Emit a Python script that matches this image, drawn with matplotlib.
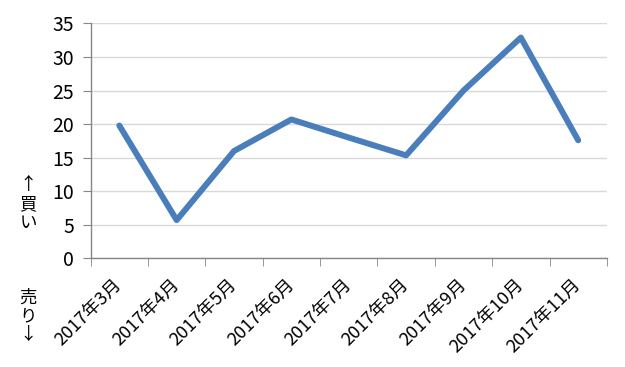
import matplotlib
matplotlib.use("Agg")
import matplotlib.pyplot as plt

plt.rcParams['font.family'] = ['Noto Sans CJK JP', 'DejaVu Sans']

months = ["2017年3月", "2017年4月", "2017年5月", "2017年6月", "2017年7月",
          "2017年8月", "2017年9月", "2017年10月", "2017年11月"]
values = [19.8, 5.7, 16.0, 20.7, 18.0, 15.35, 25.0, 32.9, 17.6]
yticks = [0, 5, 10, 15, 20, 25, 30, 35]

fig = plt.figure(figsize=(6.25, 3.67), dpi=100)
ax = fig.add_axes([0.145, 0.296, 0.826, 0.640])

x = list(range(len(months)))
ax.plot(x, values, color="#4a7ebb", lw=4.3, solid_capstyle="round", solid_joinstyle="round", zorder=3)

ax.set_xlim(-0.5, len(months) - 0.5)
ax.set_ylim(0, 35)
ax.set_yticks(yticks)
ax.yaxis.grid(True, color="#d9d9d9", lw=1.0)
ax.set_axisbelow(True)
for s in ("top", "right"):
    ax.spines[s].set_visible(False)
for s in ("left", "bottom"):
    ax.spines[s].set_color("#868686")
    ax.spines[s].set_linewidth(1.0)

# labels at category centres, tick marks on category boundaries
ax.set_xticks(x)
ax.set_xticklabels(months, rotation=45, ha="right", va="center", rotation_mode="anchor", fontsize=13)
ax.tick_params(axis="x", which="major", length=0, pad=17)
ax.set_xticks([i - 0.5 for i in range(len(months) + 1)], minor=True)
ax.tick_params(axis="x", which="minor", length=6, color="#868686", direction="out")
ax.tick_params(axis="y", length=6, color="#868686", labelsize=14, pad=6)

fig.text(0.045, 0.444, "↑\n買\nい", ha="center", va="center", fontsize=12.5, linespacing=1.05)
fig.text(0.045, 0.139, "売\nり\n↓", ha="center", va="center", fontsize=12.5, linespacing=1.05)

fig.savefig("out.png", dpi=100)
